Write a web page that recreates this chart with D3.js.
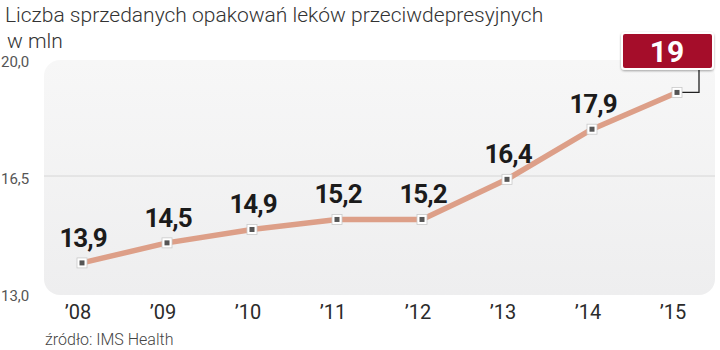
<!DOCTYPE html>
<html>
<head>
<meta charset="utf-8">
<script src="https://cdn.jsdelivr.net/npm/d3@7"></script>
<style>
  html, body { margin: 0; padding: 0; background: #fff; }
  svg { display: block; font-family: Roboto, "Noto Sans", sans-serif; }
</style>
</head>
<body>
<svg id="chart" width="720" height="350"></svg>
<script>
// Liczba sprzedanych opakowań (mln)
const years = ["’08", "’09", "’10", "’11", "’12", "’13", "’14", "’15"];
const values = [13.9, 14.5, 14.9, 15.2, 15.2, 16.4, 17.9, 19];
const valueLabels = ["13,9", "14,5", "14,9", "15,2", "15,2", "16,4", "17,9", "19"];
const yTicks = [13.0, 16.5, 20.0];
const yTickLabels = ["13,0", "16,5", "20,0"];

const svg = d3.select("#chart");

const panel = { left: 44, right: 715, top: 60, bottom: 295 };

const x = d3.scalePoint().domain(years).range([82, 677]);
const y = d3.scaleLinear().domain([13, 20]).range([293, 59]);

// background panel with soft vertical gradient
const defs = svg.append("defs");
const grad = defs.append("linearGradient").attr("id", "bg").attr("x1", 0).attr("y1", 0).attr("x2", 0).attr("y2", 1);
grad.append("stop").attr("offset", "0%").attr("stop-color", "#f7f7f7");
grad.append("stop").attr("offset", "100%").attr("stop-color", "#eeeeef");

const shadow = defs.append("filter").attr("id", "shadow").attr("x", "-20%").attr("y", "-20%").attr("width", "140%").attr("height", "150%");
shadow.append("feDropShadow").attr("dx", 0).attr("dy", 1).attr("stdDeviation", 1.2).attr("flood-color", "#000").attr("flood-opacity", 0.35);

svg.append("rect")
  .attr("x", panel.left).attr("y", panel.top)
  .attr("width", panel.right - panel.left).attr("height", panel.bottom - panel.top)
  .attr("rx", 16).attr("ry", 16)
  .attr("fill", "url(#bg)");

// grid line at the middle tick
svg.append("line")
  .attr("x1", panel.left).attr("x2", panel.right)
  .attr("y1", y(16.5)).attr("y2", y(16.5))
  .attr("stroke", "#d6d6d6").attr("stroke-width", 1);

// y tick labels
svg.selectAll("text.ytick").data(yTicks).join("text")
  .attr("class", "ytick")
  .attr("x", 1)
  .attr("y", d => y(d) + 8)
  .attr("font-size", 15)
  .attr("fill", "#555")
  .text((d, i) => yTickLabels[i]);

// x axis labels
svg.selectAll("text.xtick").data(years).join("text")
  .attr("class", "xtick")
  .attr("x", d => x(d) - 4)
  .attr("y", 319)
  .attr("text-anchor", "middle")
  .attr("font-size", 20)
  .attr("fill", "#2b2b2b")
  .text(d => d);

// title
svg.append("text")
  .attr("x", 5).attr("y", 22)
  .attr("font-size", 21).attr("font-weight", 300)
  .attr("fill", "#333")
  .text("Liczba sprzedanych opakowań leków przeciwdepresyjnych");
svg.append("text")
  .attr("x", 7).attr("y", 48)
  .attr("font-size", 21).attr("font-weight", 300)
  .attr("fill", "#333")
  .text("w mln");

// source
svg.append("text")
  .attr("x", 45).attr("y", 345)
  .attr("font-size", 16).attr("font-weight", 300)
  .attr("fill", "#444")
  .text("źródło: IMS Health");

// connector from last point to callout box
const lastX = x(years[years.length - 1]);
const lastY = y(values[values.length - 1]);
svg.append("path")
  .attr("d", `M${lastX},${lastY} H${lastX + 22} V69`)
  .attr("fill", "none").attr("stroke", "#222").attr("stroke-width", 1.3);

// data line
const line = d3.line().x((d, i) => x(years[i])).y(d => y(d));
svg.append("path")
  .datum(values)
  .attr("d", line)
  .attr("fill", "none")
  .attr("stroke", "#dd9f88")
  .attr("stroke-width", 5.5)
  .attr("stroke-linejoin", "round");

// markers
const mk = svg.selectAll("g.mk").data(values).join("g")
  .attr("class", "mk")
  .attr("transform", (d, i) => `translate(${x(years[i])},${y(d)})`);
mk.append("rect")
  .attr("x", -5).attr("y", -5).attr("width", 10).attr("height", 10)
  .attr("fill", "#fff").attr("stroke", "#c9c9c9").attr("stroke-width", 0.8);
mk.append("rect")
  .attr("x", -2.5).attr("y", -2.5).attr("width", 5).attr("height", 5)
  .attr("fill", "#555");

// value labels (all but the last, which sits in the callout)
svg.selectAll("text.val").data(values.slice(0, -1)).join("text")
  .attr("class", "val")
  .attr("x", (d, i) => x(years[i]) + 1)
  .attr("y", d => y(d) - 16)
  .attr("text-anchor", "middle")
  .attr("font-size", 26).attr("font-weight", 700)
  .attr("fill", "#1b1b1b")
  .attr("letter-spacing", -1)
  .text((d, i) => valueLabels[i]);

// callout box for the final value
svg.append("rect")
  .attr("x", 622).attr("y", 33).attr("width", 91).attr("height", 36)
  .attr("rx", 3)
  .attr("fill", "#a50f2b")
  .attr("stroke", "#fff").attr("stroke-width", 2)
  .attr("filter", "url(#shadow)");
svg.append("text")
  .attr("x", 667).attr("y", 62)
  .attr("text-anchor", "middle")
  .attr("font-size", 30).attr("font-weight", 700)
  .attr("fill", "#fff")
  .text(valueLabels[valueLabels.length - 1]);
</script>
</body>
</html>
